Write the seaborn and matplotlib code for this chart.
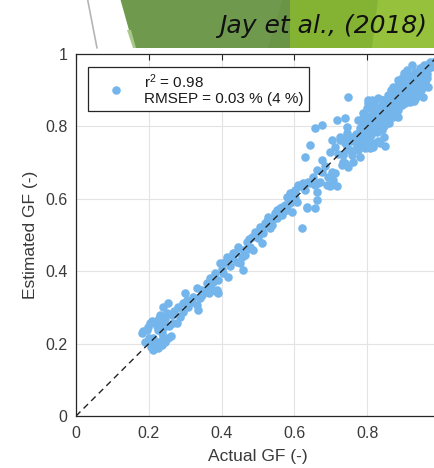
import matplotlib
matplotlib.use("Agg")
import matplotlib.pyplot as plt
import seaborn as sns
import pandas as pd
from matplotlib.patches import Polygon
from matplotlib.lines import Line2D

# ---------------- data ----------------
actual_gf = [
    # low cluster
    0.180, 0.185, 0.194, 0.199, 0.203, 0.208, 0.217, 0.212, 0.208, 0.212,
    0.205, 0.218, 0.226, 0.235, 0.245, 0.254, 0.262, 0.235, 0.226, 0.240,
    0.235, 0.231, 0.240, 0.254, 0.249, 0.263, 0.267, 0.277, 0.286, 0.295,
    0.295, 0.299, 0.309, 0.318, 0.332, 0.336, 0.341, 0.332, 0.345, 0.359,
    0.368, 0.377, 0.387, 0.391, 0.222, 0.228, 0.244, 0.256, 0.270, 0.280,
    0.305, 0.322, 0.350, 0.190, 0.200, 0.228, 0.240,
    # middle
    0.345, 0.359, 0.368, 0.377, 0.387, 0.382, 0.391, 0.396, 0.409, 0.418,
    0.414, 0.428, 0.441, 0.437, 0.451, 0.446, 0.460, 0.464, 0.460, 0.469,
    0.478, 0.483, 0.487, 0.492, 0.501, 0.505, 0.510, 0.515, 0.519, 0.528,
    0.533, 0.538, 0.547, 0.560, 0.565, 0.574, 0.588, 0.593, 0.606, 0.620,
    0.634, 0.400, 0.423, 0.432, 0.455, 0.474, 0.497, 0.524, 0.553, 0.580,
    0.600, 0.541, 0.510, 0.470, 0.365, 0.405,
    # upper middle
    0.551, 0.565, 0.579, 0.593, 0.588, 0.602, 0.615, 0.643, 0.666, 0.661,
    0.629, 0.634, 0.657, 0.661, 0.574, 0.579, 0.593, 0.602, 0.611, 0.624,
    0.638, 0.657, 0.661, 0.670, 0.689, 0.698, 0.716, 0.707, 0.693, 0.675,
    0.702, 0.712, 0.643, 0.675, 0.698, 0.702, 0.712, 0.720, 0.730, 0.739,
    0.748, 0.734, 0.725, 0.739, 0.753, 0.744, 0.766, 0.776, 0.780, 0.799,
    0.808, 0.817, 0.789, 0.771, 0.657, 0.675, 0.748, 0.685, 0.650, 0.630,
    # dense upper band
    0.716, 0.739, 0.744, 0.725, 0.776, 0.789, 0.803, 0.812, 0.826, 0.835,
    0.817, 0.808, 0.780, 0.858, 0.844, 0.872, 0.885, 0.872, 0.895, 0.908,
    0.922, 0.927, 0.945, 0.963, 0.968, 0.973, 0.908, 0.922, 0.900, 0.936,
    0.954, 0.885, 0.959, 0.945, 0.936, 0.963, 0.968, 0.950, 0.922, 0.908,
    0.895, 0.900, 0.936, 0.954, 0.918, 0.881, 0.863, 0.844, 0.831, 0.812,
    0.803, 0.799, 0.817, 0.835, 0.858, 0.885, 0.885, 0.854, 0.826, 0.789,
    0.808, 0.835, 0.780, 0.803, 0.826, 0.762, 0.744, 0.780, 0.808, 0.817,
    0.794, 0.771, 0.744, 0.757, 0.734, 0.780, 0.734, 0.762,
    0.950, 0.940, 0.930, 0.960, 0.970, 0.955, 0.915, 0.925, 0.940, 0.960,
    0.910, 0.890, 0.875, 0.860, 0.870, 0.850, 0.840, 0.820, 0.800, 0.790,
    0.815, 0.845, 0.855, 0.870, 0.895, 0.910, 0.930, 0.905, 0.865, 0.880,
    0.940, 0.925, 0.975, 0.965, 0.950, 0.820, 0.840, 0.860, 0.830, 0.845,
    0.795, 0.770, 0.755, 0.810, 0.830, 0.870, 0.890, 0.900, 0.915, 0.930,
    0.945, 0.960, 0.950, 0.985, 0.835, 0.850,
    0.905, 0.915, 0.925, 0.935, 0.945, 0.955, 0.965, 0.895, 0.885, 0.875,
    0.865, 0.855, 0.845, 0.835, 0.825, 0.815, 0.805, 0.795, 0.785, 0.900,
    0.910, 0.920, 0.930, 0.940, 0.880, 0.870, 0.860, 0.850, 0.840, 0.830,
    0.820, 0.810, 0.800, 0.958, 0.948, 0.938, 0.928, 0.918,
]
estimated_gf = [
    # low cluster
    0.228, 0.235, 0.238, 0.245, 0.256, 0.262, 0.260, 0.215, 0.201, 0.182,
    0.190, 0.195, 0.187, 0.196, 0.205, 0.215, 0.222, 0.228, 0.238, 0.242,
    0.260, 0.279, 0.302, 0.311, 0.284, 0.279, 0.256, 0.256, 0.274, 0.288,
    0.311, 0.339, 0.302, 0.316, 0.307, 0.293, 0.325, 0.353, 0.334, 0.348,
    0.362, 0.371, 0.348, 0.339, 0.248, 0.270, 0.268, 0.248, 0.290, 0.300,
    0.320, 0.330, 0.345, 0.205, 0.215, 0.205, 0.218,
    # middle
    0.348, 0.367, 0.380, 0.348, 0.343, 0.394, 0.376, 0.422, 0.426, 0.385,
    0.440, 0.436, 0.426, 0.449, 0.422, 0.468, 0.459, 0.445, 0.403, 0.482,
    0.468, 0.495, 0.459, 0.509, 0.491, 0.523, 0.477, 0.505, 0.532, 0.551,
    0.518, 0.528, 0.560, 0.574, 0.555, 0.583, 0.588, 0.564, 0.592, 0.518,
    0.578, 0.405, 0.415, 0.450, 0.440, 0.490, 0.500, 0.540, 0.548, 0.570,
    0.610, 0.545, 0.515, 0.460, 0.340, 0.395,
    # upper middle
    0.569, 0.578, 0.583, 0.597, 0.615, 0.624, 0.634, 0.643, 0.643, 0.680,
    0.716, 0.574, 0.574, 0.597, 0.569, 0.606, 0.615, 0.602, 0.638, 0.643,
    0.647, 0.638, 0.620, 0.647, 0.638, 0.634, 0.634, 0.652, 0.661, 0.675,
    0.675, 0.670, 0.749, 0.707, 0.730, 0.762, 0.744, 0.725, 0.693, 0.698,
    0.689, 0.725, 0.771, 0.753, 0.735, 0.781, 0.762, 0.735, 0.776, 0.767,
    0.740, 0.749, 0.749, 0.749, 0.795, 0.804, 0.882, 0.690, 0.660, 0.625,
    # dense upper band
    0.818, 0.822, 0.799, 0.762, 0.818, 0.836, 0.873, 0.854, 0.840, 0.808,
    0.753, 0.781, 0.771, 0.887, 0.873, 0.859, 0.878, 0.910, 0.919, 0.901,
    0.892, 0.937, 0.956, 0.970, 0.960, 0.979, 0.956, 0.970, 0.947, 0.919,
    0.928, 0.928, 0.960, 0.960, 0.942, 0.933, 0.910, 0.905, 0.923, 0.910,
    0.933, 0.887, 0.887, 0.882, 0.868, 0.873, 0.868, 0.873, 0.878, 0.873,
    0.864, 0.850, 0.845, 0.850, 0.845, 0.845, 0.827, 0.822, 0.827, 0.822,
    0.813, 0.808, 0.795, 0.790, 0.785, 0.771, 0.767, 0.767, 0.758, 0.744,
    0.740, 0.744, 0.740, 0.721, 0.721, 0.716, 0.702, 0.702,
    0.940, 0.930, 0.950, 0.950, 0.970, 0.970, 0.940, 0.905, 0.910, 0.920,
    0.925, 0.900, 0.890, 0.860, 0.840, 0.850, 0.830, 0.810, 0.800, 0.780,
    0.800, 0.800, 0.835, 0.825, 0.860, 0.880, 0.875, 0.865, 0.900, 0.910,
    0.895, 0.930, 0.965, 0.945, 0.915, 0.865, 0.860, 0.810, 0.760, 0.770,
    0.755, 0.780, 0.760, 0.830, 0.840, 0.870, 0.875, 0.900, 0.900, 0.910,
    0.940, 0.960, 0.950, 0.980, 0.754, 0.745,
    0.915, 0.915, 0.940, 0.925, 0.925, 0.935, 0.955, 0.910, 0.895, 0.860,
    0.880, 0.860, 0.845, 0.820, 0.810, 0.820, 0.830, 0.810, 0.800, 0.875,
    0.895, 0.880, 0.895, 0.905, 0.855, 0.850, 0.830, 0.815, 0.790, 0.800,
    0.790, 0.775, 0.770, 0.925, 0.900, 0.885, 0.870, 0.905,
]
legend_text = "r$^2$ = 0.98\nRMSEP = 0.03 % (4 %)"
tick_values = [0, 0.2, 0.4, 0.6, 0.8, 1.0]
tick_labels = ["0", "0.2", "0.4", "0.6", "0.8", "1"]
x_label = "Actual GF (-)"
y_label = "Estimated GF (-)"
banner_title = "Jay et al., (2018)"

df = pd.DataFrame({"actual": actual_gf, "estimated": estimated_gf})

# ---------------- figure ----------------
sns.set_style("white")
plt.rcParams["font.family"] = ["Liberation Sans", "DejaVu Sans"]
plt.rcParams["mathtext.fontset"] = "custom"
plt.rcParams["mathtext.rm"] = "Liberation Sans"
plt.rcParams["mathtext.it"] = "Liberation Sans"
plt.rcParams["mathtext.default"] = "regular"

W, H = 435, 468
fig = plt.figure(figsize=(W / 100, H / 100), dpi=100)


def fx(px):
    return px / W


def fy(py):
    return 1 - py / H


ax = fig.add_axes([fx(76), fy(416), 364 / W, 362 / H])

ax.grid(True, color="#e3e3e3", linewidth=0.8, zorder=0)
ax.set_axisbelow(True)

sns.scatterplot(data=df, x="actual", y="estimated", ax=ax, color="#74b6ec",
                s=38, linewidth=0, alpha=1, label=legend_text, zorder=2)

ax.plot([0, 1], [0, 1], color="#222222", linewidth=1.0,
        dashes=(4.5, 3.2), zorder=3)

ax.set_xlim(0, 1)
ax.set_ylim(0, 1)
ax.set_xticks(tick_values)
ax.set_xticklabels(tick_labels)
ax.set_yticks(tick_values)
ax.set_yticklabels(tick_labels)
ax.tick_params(direction="in", length=4, width=0.8, colors="#262626",
               labelcolor="#3a3a3a", labelsize=11.5, top=True, right=True)
ax.tick_params(axis="x", pad=7)
ax.tick_params(axis="y", pad=6)
for sp in ax.spines.values():
    sp.set_color("#262626")
    sp.set_linewidth(0.9)

ax.set_xlabel(x_label, fontsize=12.5, color="#3a3a3a", labelpad=6)
ax.set_ylabel(y_label, fontsize=12.5, color="#3a3a3a", labelpad=5)

ax_w = 364 / W
leg = ax.legend(loc="upper left", bbox_to_anchor=((fx(88) - fx(76)) / ax_w, 0.964),
                fontsize=11, frameon=True, fancybox=False, borderpad=0.35,
                handlelength=3.0, handletextpad=0.3, borderaxespad=0,
                markerscale=1.0, labelspacing=0.2)
frame = leg.get_frame()
frame.set_edgecolor("#262626")
frame.set_linewidth(0.9)
frame.set_facecolor("white")
frame.set_alpha(1)
for t in leg.get_texts():
    t.set_color("#1a1a1a")
    t.set_linespacing(1.05)

# ---------------- slide decorations ----------------
def poly(pts, color, z=5):
    p = Polygon([(fx(a), fy(b)) for a, b in pts], closed=True,
                transform=fig.transFigure, facecolor=color, edgecolor="none",
                zorder=z)
    fig.patches.append(p)

poly([(120, -2), (440, -2), (440, 48), (134, 48)], "#6f9a4e")
poly([(283, -2), (291, -2), (291, 48), (268, 48)], "#6a9546")
poly([(290, -2), (440, -2), (440, 48), (290, 48)], "#84b333")
poly([(378, -2), (440, -2), (440, 48), (372, 48)], "#95c13c")
poly([(127, 30), (131, 30), (136, 48), (133, 48)], "#a9c98a")

fig.lines.append(Line2D([fx(87.5), fx(97)], [fy(-1), fy(48)],
                        transform=fig.transFigure, color="#b5b5b5",
                        linewidth=1.2, zorder=5))

fig.text(fx(427), fy(33), banner_title, ha="right", va="baseline",
         fontsize=18, style="italic", family=["DejaVu Sans"],
         color="#111111", zorder=6)

fig.savefig("out.png", dpi=100)
